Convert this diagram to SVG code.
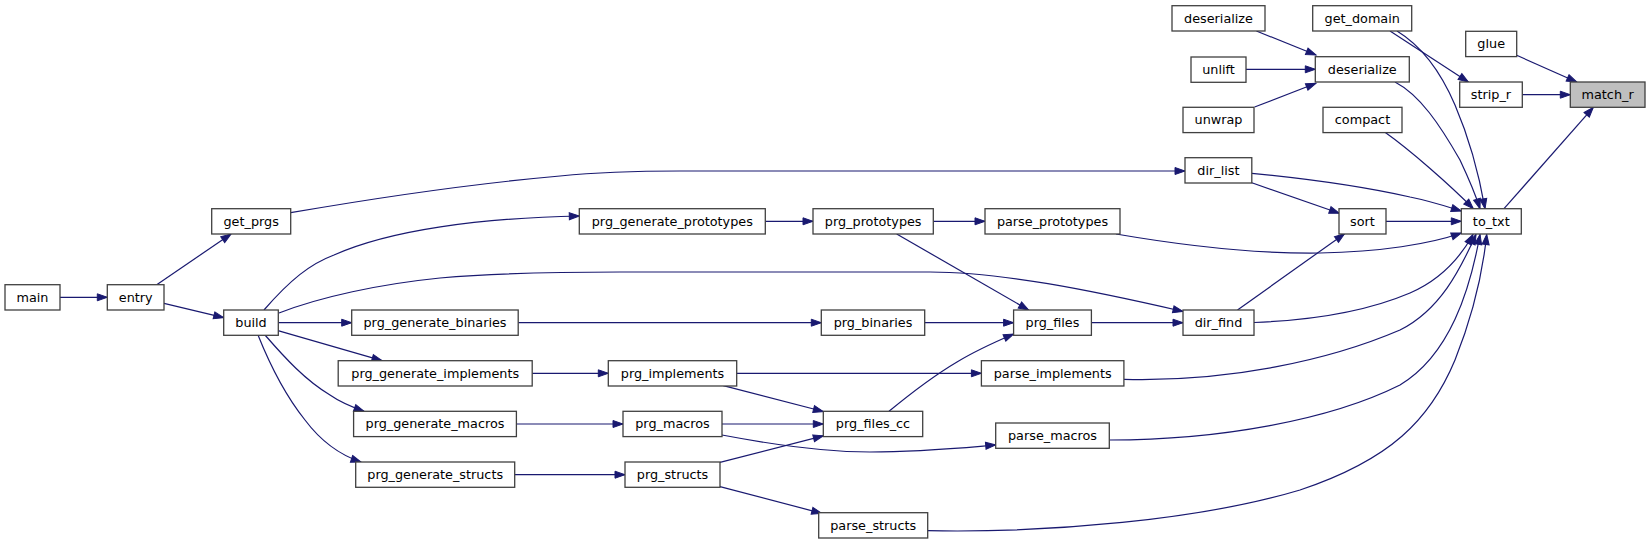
<svg xmlns="http://www.w3.org/2000/svg" width="1651" height="544" viewBox="0 0 1651 544">
<style>
.n rect{fill:#ffffff;stroke:#404040;stroke-width:1.3}
.n text{font-family:"DejaVu Sans",sans-serif;font-size:12.8px;fill:#000;text-anchor:middle}
#edges path{fill:none;stroke:#191970;stroke-width:1.2;marker-end:url(#a)}
</style>
<defs>
<marker id="a" markerWidth="12" markerHeight="9" refX="10" refY="4" orient="auto" markerUnits="userSpaceOnUse" overflow="visible">
<path d="M0,0.5 L10,4 L0,7.5 z" fill="#191970" stroke="#191970" stroke-width="1"/>
</marker>
</defs>
<rect width="1651" height="544" fill="#ffffff"/>
<g id="edges">
<path d="M60,297.3 L107.3,297.3"/>
<path d="M156.7,284.7 L231,234"/>
<path d="M164,303.3 L223.7,317.7"/>
<path d="M290.7,212.7 C370,199 470,184 560,176 C600,172 640,171 680,171 L1185,171"/>
<path d="M264,310 C290,280 310,264 334,255 C390,230 480,218 579.3,216"/>
<path d="M279,313 C320,297 380,284 440,278 C500,273 560,272 620,272 L930,272 C1000,272 1090,290 1183,311.5"/>
<path d="M278.3,322.7 L351.7,322.7"/>
<path d="M278,330.7 L382,360.7"/>
<path d="M265,335 C285,358 305,380 330,395 C340,402 352,407 364,411.3"/>
<path d="M258,335 C270,365 285,395 305,420 C320,440 340,455 361,462"/>
<path d="M765.3,221.3 L813,221.3"/>
<path d="M933.3,221.3 L985,221.3"/>
<path d="M896.7,234 L1028.6,310"/>
<path d="M518.2,322.7 L821.3,322.7"/>
<path d="M924.7,322.7 L1013.6,322.7"/>
<path d="M532.2,373.3 L608.3,373.3"/>
<path d="M736.7,373.3 L981.4,373.3"/>
<path d="M723.3,385.7 L823.3,411.5"/>
<path d="M516.4,424 L623,424"/>
<path d="M722,424 L823.3,424"/>
<path d="M722,435 C780,446 830,452 870,452 C920,452 960,448 995.7,445"/>
<path d="M514.6,474.7 L625,474.7"/>
<path d="M720,462.3 L823.3,435.8"/>
<path d="M720,486.7 L821.7,513.3"/>
<path d="M889,411.3 C910,394 935,375 957,362 C975,351 995,342 1013.6,334"/>
<path d="M1091.4,322.7 L1183,322.7"/>
<path d="M1237.5,310 L1344.6,233.7"/>
<path d="M1254,322.5 C1320,320 1370,310 1410,293 C1440,280 1460,258 1473,234.5"/>
<path d="M1251.8,173.3 C1310,179 1370,188 1410,197 C1430,201 1445,206 1461.3,211"/>
<path d="M1251.8,182.7 L1339.3,213.3"/>
<path d="M1386,221.3 L1461.3,221.3"/>
<path d="M1116,234 C1180,245 1250,254 1320,253 C1380,252 1430,244 1461.3,233"/>
<path d="M1124,379.3 C1230,382 1330,360 1400,330 C1440,310 1460,270 1476,234.5"/>
<path d="M1109.3,440 C1220,440 1330,420 1400,385 C1450,355 1470,290 1480,234.5"/>
<path d="M927.7,530.7 C1050,533 1200,520 1300,490 C1390,460 1430,420 1455,360 C1475,310 1483,270 1486.7,234.5"/>
<path d="M1256.4,31 L1316,55"/>
<path d="M1245.8,69.3 L1315.3,69.3"/>
<path d="M1254.6,107 L1316,83.3"/>
<path d="M1395,82 C1420,95 1440,125 1460,160 C1468,177 1475,193 1480,208.7"/>
<path d="M1397,31 C1420,45 1440,70 1455,105 C1470,140 1480,180 1485,208.7"/>
<path d="M1390,31 L1468.3,82"/>
<path d="M1385,132.3 C1410,150 1450,185 1473.3,208.7"/>
<path d="M1516.7,55.3 L1576.7,82"/>
<path d="M1522.3,94.7 L1570.3,94.7"/>
<path d="M1504,208.7 L1593.3,107.3"/>
</g>
<g id="main" class="n"><rect x="5" y="284.7" width="55" height="25.3"/><text x="32.5" y="301.7">main</text></g>
<g id="entry" class="n"><rect x="107.3" y="284.7" width="56.7" height="25.3"/><text x="135.7" y="301.7">entry</text></g>
<g id="get_prgs" class="n"><rect x="211.7" y="208.7" width="79" height="25.3"/><text x="251.2" y="225.7">get_prgs</text></g>
<g id="build" class="n"><rect x="223.7" y="310" width="54.6" height="25.3"/><text x="251" y="327">build</text></g>
<g id="prg_generate_prototypes" class="n"><rect x="579.3" y="208.7" width="186" height="25.3"/><text x="672.3" y="225.7">prg_generate_prototypes</text></g>
<g id="prg_generate_binaries" class="n"><rect x="351.7" y="310" width="166.5" height="25.3"/><text x="435" y="327">prg_generate_binaries</text></g>
<g id="prg_generate_implements" class="n"><rect x="338.2" y="360.7" width="194" height="25.3"/><text x="435.2" y="377.7">prg_generate_implements</text></g>
<g id="prg_generate_macros" class="n"><rect x="353.6" y="411.3" width="162.8" height="25.3"/><text x="435" y="428.3">prg_generate_macros</text></g>
<g id="prg_generate_structs" class="n"><rect x="355.7" y="462" width="159" height="25.3"/><text x="435.2" y="479">prg_generate_structs</text></g>
<g id="prg_prototypes" class="n"><rect x="813" y="208.7" width="120.3" height="25.3"/><text x="873.2" y="225.7">prg_prototypes</text></g>
<g id="prg_binaries" class="n"><rect x="821.3" y="310" width="103.4" height="25.3"/><text x="873" y="327">prg_binaries</text></g>
<g id="prg_implements" class="n"><rect x="608.3" y="360.7" width="128.4" height="25.3"/><text x="672.5" y="377.7">prg_implements</text></g>
<g id="prg_macros" class="n"><rect x="623" y="411.3" width="99" height="25.3"/><text x="672.5" y="428.3">prg_macros</text></g>
<g id="prg_structs" class="n"><rect x="625" y="462" width="95" height="25.3"/><text x="672.5" y="479">prg_structs</text></g>
<g id="prg_files_cc" class="n"><rect x="823.3" y="411.3" width="99.4" height="25.3"/><text x="873" y="428.3">prg_files_cc</text></g>
<g id="parse_structs" class="n"><rect x="818.7" y="512.7" width="109" height="25.3"/><text x="873.2" y="529.7">parse_structs</text></g>
<g id="prg_files" class="n"><rect x="1013.6" y="310" width="77.8" height="25.3"/><text x="1052.5" y="327">prg_files</text></g>
<g id="parse_prototypes" class="n"><rect x="985" y="208.7" width="135" height="25.3"/><text x="1052.5" y="225.7">parse_prototypes</text></g>
<g id="parse_implements" class="n"><rect x="981.4" y="360.7" width="142.5" height="25.3"/><text x="1052.7" y="377.7">parse_implements</text></g>
<g id="parse_macros" class="n"><rect x="995.7" y="423" width="113.6" height="25.3"/><text x="1052.5" y="440">parse_macros</text></g>
<g id="dir_find" class="n"><rect x="1183" y="310" width="71" height="25.3"/><text x="1218.5" y="327">dir_find</text></g>
<g id="dir_list" class="n"><rect x="1185" y="157.7" width="66.8" height="25.3"/><text x="1218.4" y="174.7">dir_list</text></g>
<g id="sort" class="n"><rect x="1339" y="208.7" width="47" height="25.3"/><text x="1362.5" y="225.7">sort</text></g>
<g id="compact" class="n"><rect x="1323" y="107.3" width="79" height="25.3"/><text x="1362.5" y="124.3">compact</text></g>
<g id="deserialize_1" class="n"><rect x="1172" y="5.7" width="93" height="25.3"/><text x="1218.5" y="22.7">deserialize</text></g>
<g id="unlift" class="n"><rect x="1191" y="57" width="55" height="25.3"/><text x="1218.5" y="74">unlift</text></g>
<g id="unwrap" class="n"><rect x="1183" y="107.3" width="71" height="25.3"/><text x="1218.5" y="124.3">unwrap</text></g>
<g id="deserialize_2" class="n"><rect x="1315.3" y="56.7" width="94" height="25.3"/><text x="1362.3" y="73.7">deserialize</text></g>
<g id="get_domain" class="n"><rect x="1312.7" y="5.7" width="99" height="25.3"/><text x="1362.2" y="22.7">get_domain</text></g>
<g id="glue" class="n"><rect x="1465.7" y="31.3" width="51" height="25.3"/><text x="1491.2" y="48.3">glue</text></g>
<g id="strip_r" class="n"><rect x="1459.7" y="82" width="62.6" height="25.3"/><text x="1491" y="99">strip_r</text></g>
<g id="match_r" class="n"><rect x="1570.3" y="82" width="74.7" height="25.3" style="fill:#bfbfbf"/><text x="1607.6" y="99">match_r</text></g>
<g id="to_txt" class="n"><rect x="1461.3" y="208.7" width="60" height="25.3"/><text x="1491.3" y="225.7">to_txt</text></g>
</svg>
